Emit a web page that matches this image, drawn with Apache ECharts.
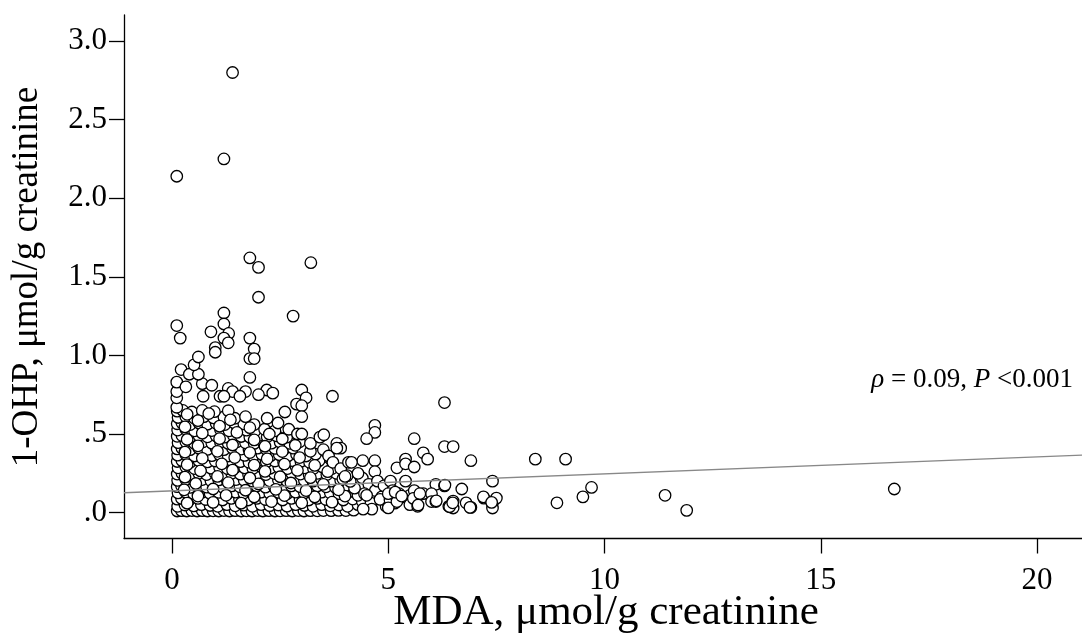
<!DOCTYPE html>
<html><head><meta charset="utf-8">
<script src="https://cdn.jsdelivr.net/npm/echarts@6/dist/echarts.min.js"></script>
<style>html,body{margin:0;padding:0;background:#fff}#c{width:1082px;height:639px}</style>
</head><body><div id="c"></div>
<script>
const xTickValues = [0, 5, 10, 15, 20];
const xTickLabels = ['0', '5', '10', '15', '20'];
const yTickValues = [0, 0.5, 1, 1.5, 2, 2.5, 3];
const yTickLabels = ['.0', '.5', '1.0', '1.5', '2.0', '2.5', '3.0'];
const xTitle = 'MDA, μmol/g creatinine';
const yTitle = '1-OHP, μmol/g creatinine';
const statText = '{i|ρ}{n| = 0.09, }{i|P}{n| <0.001}';
const regIntercept = 0.138;
const regSlope = 0.01084;

// dense cluster (MDA, 1-OHP)
const clusterPoints = [
[0.12,0.01],[0.22,0.012],[0.34,0.01],[0.46,0.013],[0.58,0.01],[0.7,0.012],[0.82,0.01],[0.95,0.011],[1.08,0.01],[1.2,0.013],[1.33,0.01],[1.46,0.012],[1.6,0.01],[1.72,0.011],[1.85,0.01],[1.98,0.013],[2.1,0.01],[2.24,0.012],[2.38,0.01],[2.5,0.011],[2.64,0.012],[2.78,0.01],[2.92,0.013],[3.05,0.01],[3.2,0.012],[3.36,0.011],[3.5,0.013],[3.68,0.012],[3.85,0.014],[4.02,0.013],[4.2,0.015],
[0.13,0.04],[0.3,0.048],[0.5,0.042],[0.68,0.05],[0.88,0.045],[1.06,0.04],[1.27,0.05],[1.46,0.043],[1.66,0.047],[1.86,0.04],[2.06,0.05],[2.26,0.044],[2.46,0.048],[2.66,0.041],[2.86,0.05],[3.06,0.045],[3.26,0.04],[3.46,0.05],[3.66,0.043],[3.86,0.048],[4.06,0.04],[4.3,0.05],[4.5,0.033],
[0.12,0.085],[0.22,0.09],[0.4,0.08],[0.6,0.09],[0.78,0.083],[0.98,0.088],[1.17,0.08],[1.37,0.09],[1.56,0.085],[1.76,0.08],[1.96,0.09],[2.16,0.083],[2.36,0.088],[2.56,0.08],[2.76,0.09],[2.96,0.085],[3.16,0.08],[3.36,0.09],[3.56,0.083],[3.76,0.088],[3.96,0.08],[4.18,0.086],[4.4,0.07],
[0.14,0.125],[0.32,0.13],[0.5,0.12],[0.7,0.13],[0.88,0.122],[1.08,0.128],[1.28,0.12],[1.47,0.13],[1.66,0.124],[1.86,0.12],[2.06,0.13],[2.26,0.122],[2.46,0.128],[2.66,0.12],[2.86,0.13],[3.06,0.125],[3.26,0.12],[3.46,0.13],[3.66,0.124],[3.86,0.12],[4.08,0.13],[4.3,0.11],
[0.12,0.165],[0.22,0.17],[0.42,0.16],[0.6,0.17],[0.8,0.162],[0.98,0.168],[1.18,0.16],[1.38,0.17],[1.57,0.164],[1.76,0.16],[1.96,0.17],[2.16,0.162],[2.36,0.168],[2.56,0.16],[2.76,0.17],[2.96,0.165],[3.16,0.16],[3.36,0.17],[3.56,0.164],[3.78,0.16],[4.0,0.17],[4.22,0.155],
[0.13,0.205],[0.32,0.21],[0.52,0.2],[0.7,0.21],[0.9,0.202],[1.08,0.208],[1.28,0.2],[1.48,0.21],[1.67,0.204],[1.86,0.2],[2.06,0.21],[2.26,0.202],[2.46,0.208],[2.66,0.2],[2.86,0.21],[3.06,0.205],[3.26,0.2],[3.46,0.21],[3.68,0.2],[3.9,0.206],[4.12,0.198],
[0.12,0.245],[0.23,0.25],[0.42,0.24],[0.62,0.25],[0.8,0.242],[1.0,0.248],[1.18,0.24],[1.38,0.25],[1.58,0.244],[1.77,0.24],[1.97,0.25],[2.17,0.242],[2.37,0.248],[2.57,0.24],[2.77,0.25],[2.97,0.245],[3.17,0.24],[3.37,0.25],[3.58,0.242],[3.8,0.25],[4.05,0.235],
[0.14,0.285],[0.32,0.29],[0.52,0.28],[0.72,0.29],[0.9,0.282],[1.1,0.288],[1.28,0.28],[1.48,0.29],[1.68,0.284],[1.87,0.28],[2.07,0.29],[2.27,0.282],[2.47,0.288],[2.67,0.28],[2.87,0.29],[3.07,0.285],[3.27,0.28],[3.48,0.29],[3.7,0.28],
[0.12,0.325],[0.23,0.33],[0.42,0.32],[0.62,0.33],[0.82,0.322],[1.0,0.328],[1.2,0.32],[1.38,0.33],[1.58,0.324],[1.78,0.32],[1.98,0.33],[2.18,0.322],[2.38,0.328],[2.58,0.32],[2.78,0.33],[2.98,0.325],[3.18,0.32],[3.4,0.33],
[0.13,0.365],[0.32,0.37],[0.52,0.36],[0.72,0.37],[0.92,0.362],[1.1,0.368],[1.3,0.36],[1.5,0.37],[1.68,0.364],[1.88,0.36],[2.08,0.37],[2.28,0.362],[2.48,0.368],[2.68,0.36],[2.88,0.37],[3.1,0.36],[3.32,0.372],
[0.12,0.405],[0.23,0.41],[0.42,0.4],[0.62,0.41],[0.82,0.402],[1.02,0.408],[1.2,0.4],[1.4,0.41],[1.6,0.404],[1.78,0.4],[1.98,0.41],[2.18,0.402],[2.38,0.408],[2.58,0.4],[2.8,0.41],[3.02,0.4],
[0.14,0.445],[0.32,0.45],[0.52,0.44],[0.72,0.45],[0.92,0.442],[1.12,0.448],[1.3,0.44],[1.5,0.45],[1.7,0.444],[1.9,0.44],[2.1,0.45],[2.3,0.442],[2.5,0.448],[2.72,0.44],[2.95,0.45],
[0.12,0.485],[0.23,0.49],[0.42,0.48],[0.62,0.49],[0.82,0.482],[1.02,0.488],[1.22,0.48],[1.42,0.49],[1.6,0.484],[1.8,0.48],[2.0,0.49],[2.2,0.482],[2.42,0.488],[2.65,0.48],
[0.13,0.525],[0.32,0.53],[0.52,0.52],[0.72,0.53],[0.92,0.522],[1.12,0.528],[1.32,0.52],[1.52,0.53],[1.72,0.524],[1.92,0.52],[2.14,0.53],[2.38,0.52],
[0.12,0.565],[0.23,0.57],[0.42,0.56],[0.62,0.57],[0.82,0.562],[1.02,0.568],[1.22,0.56],[1.44,0.57],[1.66,0.564],[1.9,0.56],
[0.14,0.605],[0.32,0.61],[0.52,0.6],[0.74,0.61],[0.96,0.602],[1.2,0.608],[1.45,0.6],[1.7,0.61],
[0.12,0.645],[0.25,0.65],[0.46,0.64],[0.7,0.65],[0.98,0.642],[1.3,0.648]
];

// extra points lying between the cluster rows
const interstitialPoints = [
[0.35,0.06],[0.95,0.065],[1.6,0.06],[2.3,0.07],[3.0,0.062],[3.7,0.066],
[0.6,0.105],[1.25,0.11],[1.9,0.1],[2.6,0.108],[3.3,0.1],[4.0,0.105],
[0.28,0.145],[0.95,0.15],[1.7,0.142],[2.4,0.148],[3.1,0.14],[3.85,0.145],
[0.55,0.185],[1.3,0.19],[2.0,0.182],[2.75,0.188],[3.5,0.18],
[0.3,0.225],[1.05,0.23],[1.8,0.22],[2.5,0.228],[3.2,0.222],[3.95,0.215],
[0.66,0.265],[1.4,0.27],[2.15,0.262],[2.9,0.268],[3.6,0.26],
[0.35,0.305],[1.15,0.31],[1.9,0.302],[2.6,0.308],[3.3,0.3],
[0.7,0.345],[1.45,0.35],[2.2,0.342],[2.95,0.35],
[0.3,0.385],[1.05,0.39],[1.8,0.382],[2.55,0.388],[3.2,0.39],
[0.6,0.425],[1.4,0.43],[2.15,0.422],[2.85,0.428],
[0.35,0.465],[1.1,0.47],[1.9,0.462],[2.55,0.468],
[0.7,0.505],[1.5,0.51],[2.25,0.5],
[0.3,0.545],[1.1,0.55],[1.8,0.54],
[0.6,0.585],[1.35,0.59],
[0.35,0.625],[0.85,0.63]
];

// points around the edge of the cluster
const edgePoints = [
[0.11,0.67],[0.11,0.73],[0.11,0.77],[0.11,0.83],[0.32,0.8],[0.7,0.82],[0.92,0.81],[1.3,0.79],[1.4,0.77],[1.7,0.77],[2.19,0.78],[2.33,0.76],[3.0,0.78],[3.1,0.73],[3.71,0.74],
[0.72,0.74],[1.11,0.74],[1.2,0.74],[1.57,0.74],[2.0,0.75],[2.88,0.69],[3.0,0.68],[2.61,0.64],[3.0,0.61],[0.21,0.91],[0.4,0.88],[0.61,0.88],[0.51,0.94],[0.61,0.99],[1.8,0.86],
[2.2,0.6],[2.45,0.57],[2.7,0.53],[2.9,0.5],[3.2,0.44],[3.5,0.4],[3.62,0.36],[3.72,0.32],[3.9,0.28],[4.0,0.23],
[4.69,0.555],[4.69,0.51],[4.5,0.47],[3.42,0.48],[3.51,0.495],[3.0,0.5],[3.81,0.44],[3.9,0.41],[3.81,0.41],[4.41,0.33],[4.69,0.33],[4.69,0.26],[5.2,0.285],[4.08,0.32],[4.15,0.32],
[4.4,0.22],[4.55,0.18],[4.7,0.14],[4.85,0.1],[4.6,0.06],[4.45,0.12],[4.75,0.2],[4.3,0.25],[4.9,0.17],[5.05,0.2],[5.25,0.12],[5.15,0.06],[4.95,0.04],[4.62,0.022],[4.42,0.022],[4.5,0.11],[4.81,0.084],[5.0,0.037],[5.04,0.08],
[5.6,0.47],[6.3,0.42],[6.5,0.42],[5.81,0.38],[5.91,0.34],[6.91,0.33],[5.4,0.34],[5.4,0.31],[5.6,0.29],[5.4,0.2],[6.1,0.18],[6.3,0.17],[6.7,0.15],[7.41,0.2],
[5.1,0.14],[5.3,0.097],[5.5,0.11],[5.6,0.14],[5.81,0.12],[6.0,0.12],[5.6,0.088],[6.0,0.07],[6.1,0.07],[6.4,0.04],[6.5,0.073],[6.5,0.029],[6.8,0.062],[6.91,0.033],[7.21,0.092],[7.41,0.062],[7.41,0.029],[7.5,0.092],
[5.0,0.12],[5.0,0.03],[5.2,0.07],[5.5,0.05],[5.68,0.04],[5.16,0.13],[5.31,0.105],[5.58,0.09],[5.73,0.12],[5.69,0.048],[6.11,0.075],[6.42,0.037],[6.49,0.062],[6.89,0.033],[7.2,0.1],[7.39,0.065],[6.31,0.175]
];

// isolated high or far points
const outlierPoints = [
[1.4,2.8],[1.2,2.25],[0.11,2.14],[1.8,1.62],[2.0,1.56],[3.21,1.59],[2.0,1.37],[1.2,1.27],[2.8,1.25],[0.11,1.19],[1.2,1.2],[0.9,1.15],[1.31,1.14],[0.19,1.11],[1.8,1.11],
[1.2,1.11],[1.3,1.08],[1.0,1.05],[1.0,1.02],[1.9,1.04],[1.8,0.98],[1.9,0.98],
[6.3,0.7],[8.4,0.34],[9.1,0.34],[9.7,0.16],[9.5,0.1],[11.4,0.11],[11.9,0.014],[8.9,0.062],[16.7,0.15]
];

const xMin = -1.11, xMax = 21.04;
const yMin = -0.165, yMax = 3.166;
const FONT = '"Liberation Serif", "Times New Roman", serif';

const chart = echarts.init(document.getElementById('c'));
const axisLineStyle = { color: '#000', width: 1.3 };
chart.setOption({
  animation: false,
  backgroundColor: '#fff',
  grid: { left: 124, top: 15, right: 0, bottom: 100.5 },
  xAxis: {
    type: 'value', min: xMin, max: xMax,
    axisLine: { show: true, onZero: false, lineStyle: axisLineStyle },
    axisTick: { show: true, inside: false, length: 15, lineStyle: axisLineStyle, customValues: xTickValues },
    axisLabel: { customValues: xTickValues, formatter: v => xTickLabels[xTickValues.indexOf(v)], margin: 27,
      fontFamily: FONT, fontSize: 31, color: '#000' },
    splitLine: { show: false }
  },
  yAxis: {
    type: 'value', min: yMin, max: yMax,
    axisLine: { show: true, onZero: false, lineStyle: axisLineStyle },
    axisTick: { show: true, inside: false, length: 15, lineStyle: axisLineStyle, customValues: yTickValues },
    axisLabel: { customValues: yTickValues, formatter: v => yTickLabels[yTickValues.indexOf(v)], margin: 17,
      fontFamily: FONT, fontSize: 31, color: '#000' },
    splitLine: { show: false }
  },
  title: {
    text: statText, right: 4, top: 361,
    textStyle: { fontFamily: FONT, fontSize: 27, fontWeight: 'normal', color: '#000',
      rich: {
        i: { fontStyle: 'italic', fontFamily: FONT, fontSize: 27, color: '#000' },
        n: { fontFamily: FONT, fontSize: 27, color: '#000' }
      } }
  },
  graphic: [
    { type: 'text', x: 27, y: 277, rotation: Math.PI / 2,
      style: { text: yTitle, font: '37px "Liberation Serif"', fill: '#000', align: 'center', verticalAlign: 'middle' } },
    { type: 'text', x: 606, y: 613,
      style: { text: xTitle, font: '43px "Liberation Serif"', fill: '#000', align: 'center', verticalAlign: 'middle' } }
  ],
  series: [
    {
      type: 'scatter',
      data: [].concat(clusterPoints, interstitialPoints, edgePoints, outlierPoints),
      symbol: 'circle', symbolSize: 11.5,
      itemStyle: { color: '#fff', borderColor: '#000', borderWidth: 1.3, opacity: 1 },
      emphasis: { disabled: true }
    },
    {
      type: 'line',
      data: [[xMin, regIntercept + regSlope * xMin], [xMax, regIntercept + regSlope * xMax]],
      symbol: 'none', silent: true,
      lineStyle: { color: '#888', width: 1.3 }
    }
  ]
});
</script></body></html>
